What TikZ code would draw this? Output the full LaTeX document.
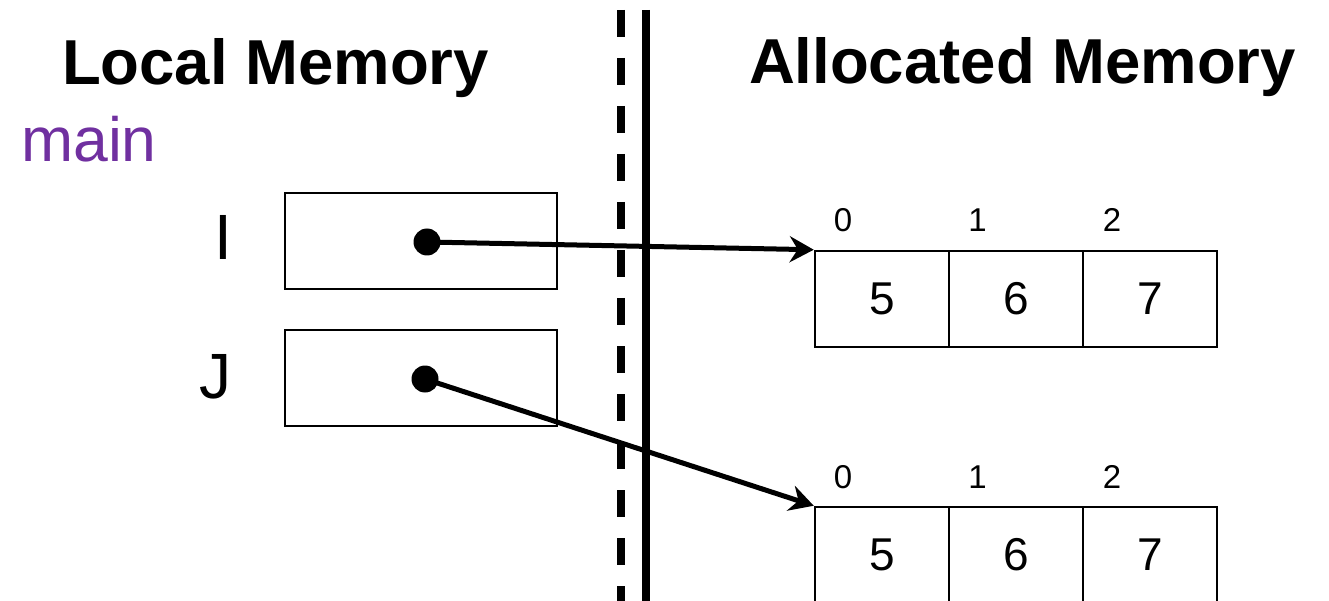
\documentclass[tikz,border=0pt]{standalone}
\usepackage{fontspec}
\setmainfont{Liberation Sans}
\usetikzlibrary{arrows.meta}
\usetikzlibrary{positioning}
\definecolor{mainpurple}{HTML}{7030A0}

\begin{document}
\begin{tikzpicture}[x=1pt, y=-1pt,
  box/.style={draw, line width=2.5pt, minimum width=272pt, minimum height=96pt, inner sep=0pt},
  cell/.style={draw, line width=2.5pt, minimum width=134pt, minimum height=96pt, inner sep=0pt, font=\fontsize{46}{50}\selectfont},
  idx/.style={inner sep=0pt, font=\fontsize{33}{36}\selectfont},
  ptr/.style={circle, fill, minimum size=27pt, inner sep=0pt},
  title/.style={inner sep=0pt, font=\bfseries\fontsize{63.5}{70}\selectfont},
  var/.style={inner sep=0pt, font=\fontsize{64}{70}\selectfont},
  link/.style={line width=5pt, ->, >={Stealth[length=24pt, width=26pt, inset=8pt]}}]
\useasboundingbox (0,0) rectangle (1329,601);
% headings
\node[title, anchor=base] (localT) at (275.5,85) {Local Memory};
\node[title, anchor=base] (allocT) at (1022.5,84) {Allocated Memory};
\node[var, anchor=base west, text=mainpurple, font=\fontsize{62.5}{66}\selectfont] (mainT) at (21,162) {main};
% stack / heap border
\draw[line width=8pt, dash pattern=on 27pt off 21pt] (621,10) -- (621,601);
\draw[line width=8pt] (646,10) -- (646,601);
% local variables
\node[box] (boxI) at (421,241) {};
\node[box] (boxJ) at (421,378) {};
\node[var, anchor=base] (nameI) at (223,260) {I};
\node[var, anchor=base] (nameJ) at (215,398) {J};
\node[ptr] (dotI) at (427,242) {};
\node[ptr] (dotJ) at (425,379) {};
% the two arrays
\foreach \v [count=\i from 0] in {5,6,7} {
 \node[cell] (a\i) at ({882+134*\i},299) {\v};
 \node[idx, anchor=base] (ia\i) at ({843+134.5*\i},232) {\i};
 \node[cell] (b\i) at ({882+134*\i},555) {\v};
 \node[idx, anchor=base] (ib\i) at ({843+134.5*\i},488) {\i};
}
\draw[link] (dotI.center) -- (a0.north west);
\draw[link] (dotJ.center) -- (b0.north west);
\end{tikzpicture}
\end{document}
